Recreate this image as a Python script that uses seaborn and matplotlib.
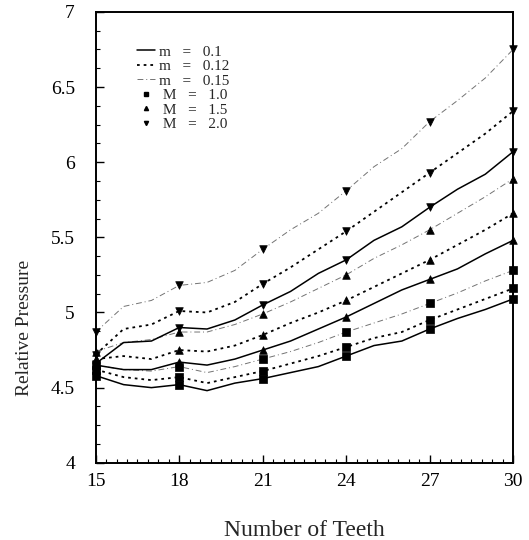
import numpy as np
import pandas as pd
import matplotlib
matplotlib.use("Agg")
import matplotlib.pyplot as plt
from matplotlib.lines import Line2D
from matplotlib.ticker import MultipleLocator, AutoMinorLocator
import seaborn as sns

# Datos: presion relativa vs numero de dientes
teeth = list(range(15, 31))
marker_teeth = [15, 18, 21, 24, 27, 30]

# M = 1.0
p_M10_m010 = [4.58, 4.52, 4.50, 4.52, 4.48, 4.53, 4.56, 4.60, 4.64, 4.71, 4.78, 4.81, 4.89, 4.96, 5.02, 5.09]
p_M10_m012 = [4.62, 4.57, 4.55, 4.57, 4.53, 4.57, 4.61, 4.66, 4.71, 4.77, 4.83, 4.87, 4.95, 5.02, 5.09, 5.16]
p_M10_m015 = [4.65, 4.62, 4.61, 4.64, 4.60, 4.64, 4.69, 4.74, 4.80, 4.87, 4.93, 4.99, 5.06, 5.13, 5.21, 5.28]
# M = 1.5
p_M15_m010 = [4.65, 4.62, 4.62, 4.67, 4.65, 4.69, 4.75, 4.81, 4.89, 4.97, 5.06, 5.15, 5.22, 5.29, 5.39, 5.48]
p_M15_m012 = [4.69, 4.71, 4.69, 4.75, 4.74, 4.78, 4.85, 4.93, 5.00, 5.08, 5.17, 5.26, 5.35, 5.45, 5.55, 5.66]
p_M15_m015 = [4.74, 4.80, 4.82, 4.87, 4.87, 4.92, 4.99, 5.07, 5.16, 5.25, 5.36, 5.45, 5.55, 5.66, 5.77, 5.89]
# M = 2.0
p_M20_m010 = [4.66, 4.80, 4.81, 4.90, 4.89, 4.95, 5.05, 5.14, 5.26, 5.35, 5.48, 5.57, 5.70, 5.82, 5.92, 6.07]
p_M20_m012 = [4.72, 4.89, 4.92, 5.01, 5.00, 5.07, 5.19, 5.30, 5.42, 5.54, 5.67, 5.80, 5.93, 6.06, 6.19, 6.34]
p_M20_m015 = [4.87, 5.04, 5.08, 5.18, 5.20, 5.28, 5.42, 5.55, 5.66, 5.81, 5.97, 6.09, 6.27, 6.41, 6.56, 6.75]

m_labels = ["m   =   0.1", "m   =   0.12", "m   =   0.15"]
M_labels = [" M   =   1.0", " M   =   1.5", " M   =   2.0"]

series = {
    ("1.0", "0.1"): p_M10_m010, ("1.0", "0.12"): p_M10_m012, ("1.0", "0.15"): p_M10_m015,
    ("1.5", "0.1"): p_M15_m010, ("1.5", "0.12"): p_M15_m012, ("1.5", "0.15"): p_M15_m015,
    ("2.0", "0.1"): p_M20_m010, ("2.0", "0.12"): p_M20_m012, ("2.0", "0.15"): p_M20_m015,
}

# estilos
line_styles = {
    "0.1": dict(color="black", linestyle="-", linewidth=1.1),
    "0.12": dict(color="black", linestyle=(0, (1.5, 2.2)), linewidth=1.3),
    "0.15": dict(color="0.45", linestyle=(0, (6, 3, 1, 3)), linewidth=0.7),
}
marker_styles = {"1.0": "s", "1.5": "^", "2.0": "v"}

sns.set_style("ticks")
plt.rcParams["font.family"] = ["Liberation Serif", "DejaVu Serif"]

fig = plt.figure(figsize=(5.29, 5.40), dpi=100)
ax = fig.add_axes([0.181, 0.143, 0.789, 0.835])

for (M, m), vals in series.items():
    sns.lineplot(x=teeth, y=vals, ax=ax, errorbar=None, **line_styles[m])
    sub = pd.DataFrame({"teeth": teeth, "p": vals})
    sub = sub[sub["teeth"].isin(marker_teeth)]
    sns.scatterplot(data=sub, x="teeth", y="p", ax=ax, marker=marker_styles[M],
                    color="black", edgecolor="black", s=30, linewidth=0.5,
                    clip_on=False, zorder=5)

ax.set_xlim(15, 30)
ax.set_ylim(4, 7)
ax.xaxis.set_major_locator(MultipleLocator(3))
ax.xaxis.set_minor_locator(AutoMinorLocator(8))
ax.yaxis.set_major_locator(MultipleLocator(0.5))
ax.yaxis.set_minor_locator(AutoMinorLocator(4))
ax.set_yticks([4, 4.5, 5, 5.5, 6, 6.5, 7])
ax.set_yticklabels(["4", "4.5", "5", "5.5", "6", "6.5", "7"])
ax.tick_params(which="both", direction="in", colors="black", labelsize=14)
ax.tick_params(which="major", length=6, width=1)
ax.tick_params(which="minor", length=3, width=0.8)
ax.tick_params(axis="y", pad=15)
ax.tick_params(axis="x", pad=7)
for sp in ax.spines.values():
    sp.set_linewidth(1.4)
    sp.set_color("black")

ax.set_xlabel("Number of Teeth", fontsize=17, labelpad=22)
ax.set_ylabel("Relative Pressure", fontsize=14)
ax.yaxis.set_label_coords(-0.15, 0.30)

# leyenda
handles = []
for m, lab in zip(["0.1", "0.12", "0.15"], m_labels):
    handles.append(Line2D([], [], label=lab, **line_styles[m]))
for M, lab in zip(["1.0", "1.5", "2.0"], M_labels):
    handles.append(Line2D([], [], label=lab, marker=marker_styles[M], color="black",
                          linestyle="none", markersize=3))
ax.legend(handles=handles, loc="upper left", bbox_to_anchor=(0.085, 0.94),
          frameon=False, fontsize=11, handlelength=1.15, handletextpad=0.3,
          labelspacing=0.05, borderaxespad=0)

fig.savefig("out.png", dpi=100)
